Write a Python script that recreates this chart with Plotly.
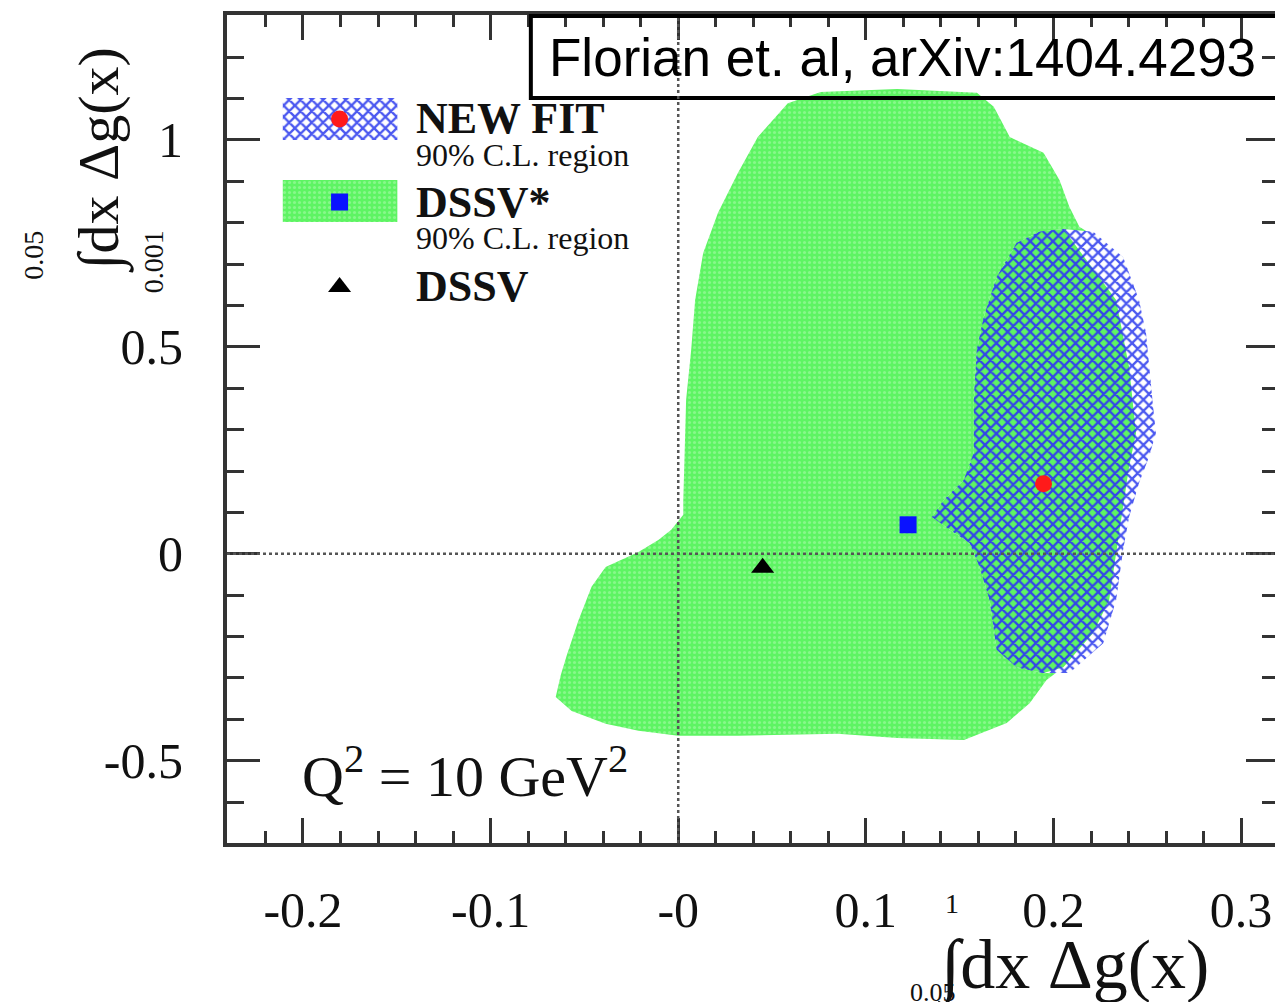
import plotly.graph_objects as go

# ---------------- data ----------------
# DSSV* 90% C.L. region boundary
dssv_star_region_x = [0.0584, 0.0759, 0.1167, 0.1592, 0.1682, 0.1767, 0.1947, 0.2032, 0.2085, 0.2138,
                      0.2191, 0.2334, 0.2403, 0.2440, 0.2403, 0.2350, 0.2297, 0.2212, 0.2053, 0.1963,
                      0.1873, 0.1751, 0.1523, 0.1167, 0.0849, 0.0318, 0.0000, -0.0212, -0.0387, -0.0568,
                      -0.0653, -0.0626, -0.0594, -0.0531, -0.0462, -0.0387, -0.0212, -0.0106, -0.0037, 0.0027,
                      0.0027, 0.0042, 0.0069, 0.0090, 0.0133, 0.0212, 0.0318, 0.0424]
dssv_star_region_y = [1.089, 1.116, 1.123, 1.114, 1.080, 1.007, 0.969, 0.903, 0.838, 0.790,
                      0.775, 0.613, 0.451, 0.292, 0.210, 0.050, -0.112, -0.191, -0.274, -0.305,
                      -0.361, -0.409, -0.450, -0.445, -0.435, -0.440, -0.440, -0.428, -0.411, -0.380,
                      -0.346, -0.293, -0.245, -0.160, -0.080, -0.032, 0.004, 0.033, 0.058, 0.094,
                      0.130, 0.372, 0.493, 0.613, 0.727, 0.824, 0.920, 1.007]

# NEW FIT 90% C.L. region boundary
new_fit_region_x = [0.1926, 0.2053, 0.2212, 0.2371, 0.2456, 0.2493, 0.2531, 0.2546, 0.2509, 0.2456,
                    0.2403, 0.2371, 0.2334, 0.2265, 0.2085, 0.1947, 0.1804, 0.1698, 0.1660, 0.1607,
                    0.1554, 0.1448, 0.1353, 0.1416, 0.1523, 0.1576, 0.1576, 0.1592, 0.1629, 0.1698,
                    0.1804]
new_fit_region_y = [0.778, 0.785, 0.778, 0.717, 0.613, 0.534, 0.355, 0.292, 0.234, 0.171,
                    0.089, 0.009, -0.112, -0.216, -0.288, -0.288, -0.274, -0.232, -0.112, -0.032,
                    0.026, 0.058, 0.089, 0.130, 0.178, 0.244, 0.372, 0.493, 0.572, 0.669,
                    0.751]

# best-fit points
new_fit_x, new_fit_y = [0.1947], [0.169]
dssv_star_x, dssv_star_y = [0.1225], [0.070]
dssv_x, dssv_y = [0.045], [-0.034]

x_tick_vals = [-0.2, -0.1, 0.0, 0.1, 0.2, 0.3]
x_tick_text = ["-0.2", "-0.1", "-0", "0.1", "0.2", "0.3"]
y_tick_vals = [-0.5, 0.0, 0.5, 1.0]
y_tick_text = ["-0.5", "0", "0.5", "1"]

# overlap of the two regions: left part of the NEW FIT outline + right edge of the DSSV* outline
overlap_x = new_fit_region_x[15:] + new_fit_region_x[:2] + dssv_star_region_x[11:19]
overlap_y = new_fit_region_y[15:] + new_fit_region_y[:2] + dssv_star_region_y[11:19]

# ---------------- layout geometry (screen pixels) ----------------
PAGE_OFF = 8                 # default body margin of the html page
W, H = 1283 - PAGE_OFF, 1002 - PAGE_OFF
L, R, T, B = 227, 1283, 15, 843   # plot-area edges on screen


def P(px, py):
    """screen pixel -> paper coordinates"""
    return (px - L) / (R - L), (B - py) / (B - T)


SERIF = "Liberation Serif, Times New Roman, serif"
TXT = "#111111"
FRAME = "#333333"

GREEN = "#5ef463"
BLUE = "#3346e8"
green_pattern = dict(shape=".", bgcolor=GREEN, fgcolor="#b2fab4", size=5, solidity=0.3)
blue_on_white = dict(shape="x", bgcolor="#ffffff", fgcolor="#4b58f0", fgopacity=1, size=8, solidity=0.5)
blue_on_green = dict(shape="x", bgcolor=GREEN, fgcolor=BLUE, fgopacity=1, size=8, solidity=0.5)


def region(xs, ys, pattern, **kw):
    return go.Scatter(x=xs, y=ys, fill="toself", mode="lines",
                      line=dict(width=0, color="rgba(0,0,0,0)"), fillcolor=pattern["bgcolor"],
                      fillpattern=pattern, showlegend=False, hoverinfo="skip", **kw)


fig = go.Figure()
fig.add_trace(region(dssv_star_region_x, dssv_star_region_y, green_pattern))
fig.add_trace(region(new_fit_region_x, new_fit_region_y, blue_on_white))
fig.add_trace(region(overlap_x, overlap_y, blue_on_green))

fig.add_trace(go.Scatter(x=dssv_star_x, y=dssv_star_y, mode="markers",
                         marker=dict(symbol="square", size=17, color="#0a12ff"), showlegend=False))
fig.add_trace(go.Scatter(x=new_fit_x, y=new_fit_y, mode="markers",
                         marker=dict(symbol="circle", size=17, color="#ff1a1a"), showlegend=False))
fig.add_trace(go.Scatter(x=dssv_x, y=dssv_y, mode="markers",
                         marker=dict(symbol="triangle-up", size=20, color="#000000"), showlegend=False))

# ---------------- hand-drawn legend on an overlay pixel axis ----------------
sw_x0, sw_x1 = 283, 398
legend_rows = [
    dict(y0=98, y1=140, pat=blue_on_white, sym="circle", col="#ff1a1a", my=119),
    dict(y0=180, y1=222, pat=green_pattern, sym="square", col="#0a12ff", my=202),
]
for r in legend_rows:
    fig.add_trace(region([sw_x0, sw_x1, sw_x1, sw_x0, sw_x0], [r["y0"], r["y0"], r["y1"], r["y1"], r["y0"]],
                         r["pat"], xaxis="x2", yaxis="y2"))
    fig.add_trace(go.Scatter(x=[340], y=[r["my"]], xaxis="x2", yaxis="y2", mode="markers",
                             marker=dict(symbol=r["sym"], size=17, color=r["col"]), showlegend=False))
fig.add_trace(go.Scatter(x=[340], y=[287], xaxis="x2", yaxis="y2", mode="markers",
                         marker=dict(symbol="triangle-up", size=20, color="#000000"), showlegend=False))

annotations = []


def add_text(px, py, text, size, family=SERIF, xanchor="left", angle=0, color=TXT):
    x, y = P(px, py)
    annotations.append(dict(x=x, y=y, xref="paper", yref="paper", text=text, showarrow=False,
                            xanchor=xanchor, yanchor="middle", textangle=angle,
                            font=dict(family=family, size=size, color=color)))


add_text(415, 118, "<b>NEW FIT</b>", 44)
add_text(415, 155, "90% C.L. region", 32)
add_text(415, 202, "<b>DSSV*</b>", 44)
add_text(415, 238, "90% C.L. region", 32)
add_text(415, 286, "<b>DSSV</b>", 44)

add_text(300, 772, "Q<sup>2</sup> = 10 GeV<sup>2</sup>", 58)

# axis titles
add_text(1076, 966, "∫dx Δg(x)", 70, xanchor="center")
add_text(955, 903, "1", 28, xanchor="center")
add_text(936, 993, "0.05", 26, xanchor="center")

add_text(100, 160, "∫dx Δg(x)", 58, xanchor="center", angle=-90)
add_text(33, 255, "0.05", 28, xanchor="center", angle=-90)
add_text(153, 262, "0.001", 28, xanchor="center", angle=-90)

# citation box
add_text(548, 57, "Florian et. al, arXiv:1404.4293", 53, family="Liberation Sans, Arial, sans-serif",
         color="#000000")

bx0, by0 = P(532, 98)
bx1, by1 = P(1300, 16)
shapes = [dict(type="rect", xref="paper", yref="paper", x0=bx0, x1=bx1, y0=by0, y1=by1,
               line=dict(color="#000000", width=4), fillcolor="rgba(0,0,0,0)", layer="above")]

# ---------------- axes ----------------
axis_common = dict(showgrid=False, zeroline=False, showline=True, linecolor=FRAME, linewidth=4,
                   mirror="allticks", ticks="inside", tickcolor=FRAME, tickwidth=3,
                   tickfont=dict(family=SERIF, size=50, color=TXT))

fig.update_layout(
    width=W, height=H,
    margin=dict(l=L - PAGE_OFF, r=(W + PAGE_OFF) - R, t=T - PAGE_OFF, b=(H + PAGE_OFF) - B, pad=0),
    paper_bgcolor="white", plot_bgcolor="white",
    xaxis=dict(range=[-0.2405, 0.3202], tickmode="array", tickvals=x_tick_vals, ticktext=x_tick_text,
               ticklen=25, ticklabelstandoff=20,
               minor=dict(ticks="inside", ticklen=12, tickwidth=3, tickcolor=FRAME, dtick=0.02, tick0=0,
                          showgrid=False),
               **axis_common),
    yaxis=dict(range=[-0.699, 1.302], tickmode="array", tickvals=y_tick_vals, ticktext=y_tick_text,
               ticklen=33, ticklabelstandoff=30,
               minor=dict(ticks="inside", ticklen=17, tickwidth=3, tickcolor=FRAME, dtick=0.1, tick0=0,
                          showgrid=False),
               **axis_common),
    xaxis2=dict(range=[L, R], overlaying="x", visible=False, anchor="y2", fixedrange=True),
    yaxis2=dict(range=[B, T], overlaying="y", visible=False, anchor="x2", fixedrange=True),
    annotations=annotations,
    shapes=shapes,
    showlegend=False,
)

fig.add_hline(y=0, line=dict(color="#555555", width=2.5, dash="dot"), layer="above")
fig.add_vline(x=0, line=dict(color="#555555", width=2.5, dash="dot"), layer="above")

fig.write_html("out.html")
